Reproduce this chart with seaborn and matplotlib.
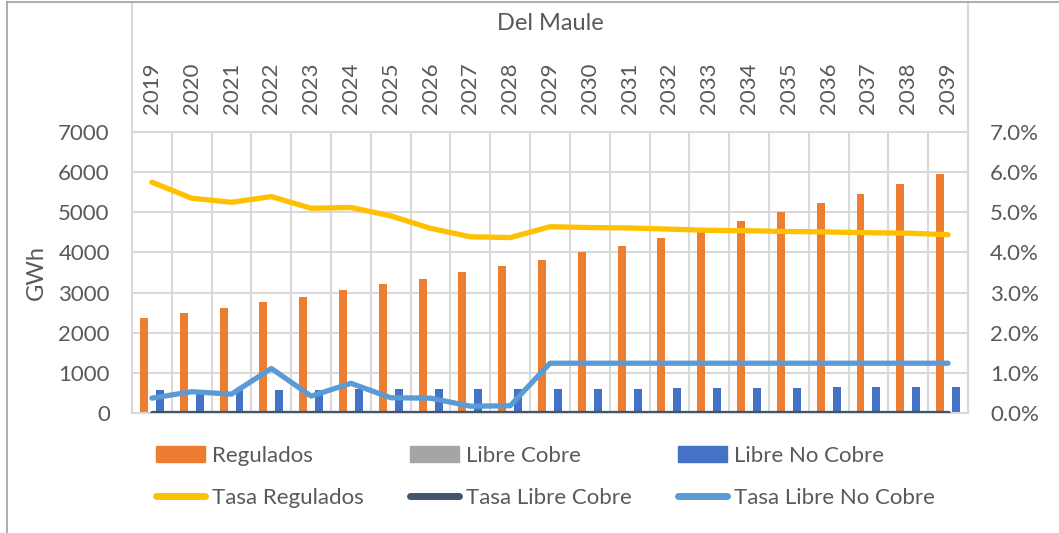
import numpy as np
import pandas as pd
import seaborn as sns
import matplotlib.pyplot as plt
from matplotlib.lines import Line2D
from matplotlib.patches import Patch
from matplotlib.ticker import PercentFormatter

years = [2019, 2020, 2021, 2022, 2023, 2024, 2025, 2026, 2027, 2028, 2029,
         2030, 2031, 2032, 2033, 2034, 2035, 2036, 2037, 2038, 2039]
regulados = [2360, 2480, 2610, 2770, 2900, 3055, 3215, 3340, 3505, 3660, 3820,
             4010, 4170, 4370, 4570, 4775, 5000, 5225, 5450, 5700, 5955]
libre_cobre = [0, 0, 0, 0, 0, 0, 0, 0, 0, 0, 0,
               0, 0, 0, 0, 0, 0, 0, 0, 0, 0]
libre_no_cobre = [573, 573, 573, 573, 573, 598, 598, 598, 598, 598, 598,
                  598, 598, 631, 631, 631, 631, 656, 656, 656, 656]
# tasas en %
tasa_regulados = [5.75, 5.35, 5.25, 5.39, 5.10, 5.12, 4.91, 4.60, 4.39, 4.37, 4.64,
                  4.62, 4.61, 4.58, 4.55, 4.54, 4.52, 4.51, 4.49, 4.48, 4.44]
tasa_libre_cobre = [0, 0, 0, 0, 0, 0, 0, 0, 0, 0, 0,
                    0, 0, 0, 0, 0, 0, 0, 0, 0, 0]
tasa_libre_no_cobre = [0.37, 0.53, 0.47, 1.11, 0.42, 0.74, 0.38, 0.37, 0.17, 0.18, 1.24,
                       1.24, 1.24, 1.24, 1.24, 1.24, 1.24, 1.24, 1.24, 1.24, 1.24]

bar_names = ["Regulados", "Libre Cobre", "Libre No Cobre"]
bar_colors = ["#ED7D31", "#A5A5A5", "#4472C4"]
line_names = ["Tasa Regulados", "Tasa Libre Cobre", "Tasa Libre No Cobre"]
line_colors = ["#FFC000", "#44546A", "#5B9BD5"]

bars = pd.DataFrame({
    "Año": [str(y) for y in years] * 3,
    "GWh": regulados + libre_cobre + libre_no_cobre,
    "Serie": [bar_names[0]] * 21 + [bar_names[1]] * 21 + [bar_names[2]] * 21,
})
lines = pd.DataFrame({
    "pos": list(range(21)) * 3,
    "tasa": tasa_regulados + tasa_libre_cobre + tasa_libre_no_cobre,
    "Serie": [line_names[0]] * 21 + [line_names[1]] * 21 + [line_names[2]] * 21,
})

txt = "#595959"
grid = "#D9D9D9"
plt.rcParams["font.family"] = ["Lato", "DejaVu Sans"]

W, H = 1059, 533
fig = plt.figure(figsize=(W / 100, H / 100), dpi=100)
ax = fig.add_axes([132 / W, 1 - 413 / H, (968 - 132) / W, (413 - 132) / H])

sns.barplot(data=bars, x="Año", y="GWh", hue="Serie", hue_order=bar_names,
            palette=bar_colors, width=0.6, saturation=1, legend=False, ax=ax)
ax.set_xlim(-0.5, 20.5)
ax.set_ylim(0, 7000)
ax.set_yticks(range(0, 7001, 1000))
ax.set_xticks(range(21), labels=[str(y) for y in years], rotation=90)
ax.set_xticks(np.arange(-0.5, 21, 1), minor=True)
ax.set_axisbelow(True)
ax.grid(axis="y", color=grid, linewidth=1.5)
ax.grid(axis="x", which="minor", color=grid, linewidth=1.5)
ax.grid(axis="x", which="major", visible=False)
ax.tick_params(axis="x", which="both", bottom=False, labelbottom=False,
               top=False, labeltop=True, length=0, pad=13, labelsize=16, labelcolor=txt)
ax.tick_params(axis="y", length=0, pad=16, labelsize=16, labelcolor=txt)
ax.set_xlabel("")
ax.set_ylabel("GWh", fontsize=17, color=txt, labelpad=8)
for s in ax.spines.values():
    s.set_color(grid)
    s.set_linewidth(1.5)

ax2 = ax.twinx()
sns.lineplot(data=lines, x="pos", y="tasa", hue="Serie", hue_order=line_names,
             palette=line_colors, linewidth=3.8, solid_capstyle="round",
             legend=False, ax=ax2)
ax2.set_ylim(0, 7)
ax2.set_yticks(range(0, 8))
ax2.yaxis.set_major_formatter(PercentFormatter(xmax=100, decimals=1))
ax2.tick_params(axis="y", length=0, pad=16, labelsize=16, labelcolor=txt)
ax2.set_ylabel("")
ax2.set_xlabel("")
for s in ax2.spines.values():
    s.set_visible(False)
ax2.set_xlim(-0.5, 20.5)

# header box lines and chart border
for xp in (132, 968):
    fig.add_artist(Line2D([xp / W, xp / W], [1 - 132 / H, 1 - 2 / H],
                          transform=fig.transFigure, color=grid, linewidth=1.5))
fig.add_artist(Line2D([7 / W, 1], [1 - 2 / H, 1 - 2 / H],
                      transform=fig.transFigure, color="#A0A0A0", linewidth=1.2))
fig.add_artist(Line2D([7 / W, 7 / W], [0, 1 - 2 / H],
                      transform=fig.transFigure, color="#A0A0A0", linewidth=1.2))

fig.text(550 / W, 1 - 23 / H, "Del Maule", ha="center", va="center",
         fontsize=17, color=txt)

handles = [
    Patch(color=bar_colors[0], label=bar_names[0]),
    Line2D([], [], color=line_colors[0], linewidth=5, solid_capstyle="round", label=line_names[0]),
    Patch(color=bar_colors[1], label=bar_names[1]),
    Line2D([], [], color=line_colors[1], linewidth=5, solid_capstyle="round", label=line_names[1]),
    Patch(color=bar_colors[2], label=bar_names[2]),
    Line2D([], [], color=line_colors[2], linewidth=5, solid_capstyle="round", label=line_names[2]),
]
fig.legend(handles=handles, ncol=3, loc="upper left",
           bbox_to_anchor=(156 / W, 1 - 446 / H), frameon=False,
           fontsize=16, labelcolor=txt, handlelength=2.2, handleheight=0.7,
           handletextpad=0.3, columnspacing=2.1, labelspacing=1.0, borderpad=0,
           borderaxespad=0)

fig.savefig("out.png", dpi=100)
